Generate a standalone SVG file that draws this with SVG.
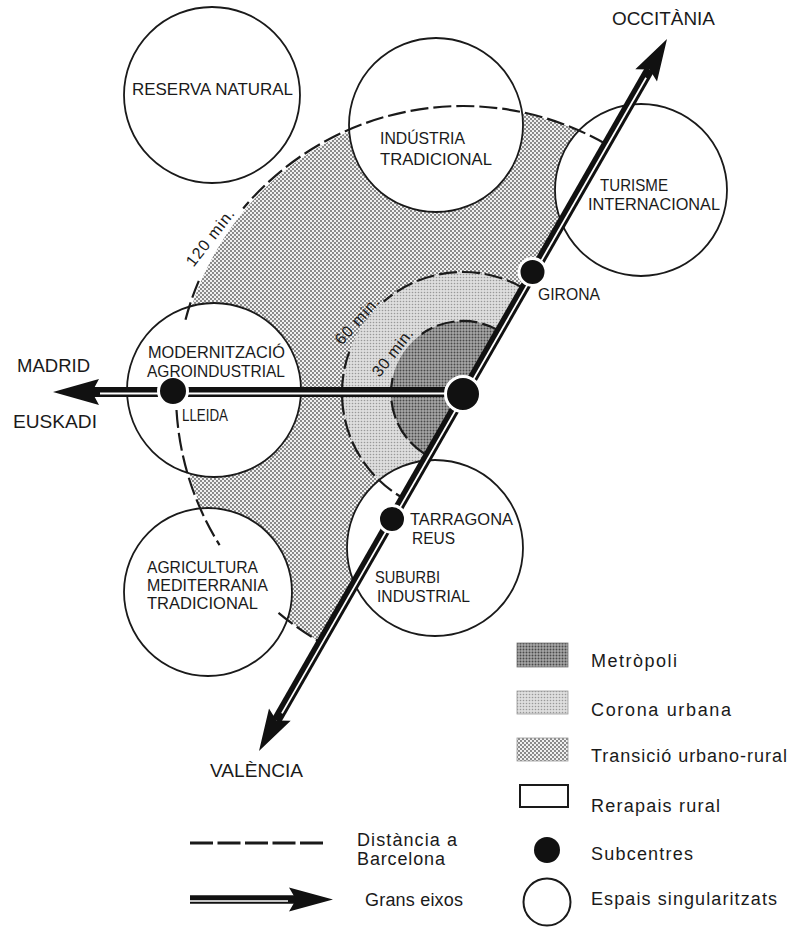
<svg xmlns="http://www.w3.org/2000/svg" width="792" height="930" viewBox="0 0 792 930">
<defs>
<pattern id="pMetro" width="3" height="3" patternUnits="userSpaceOnUse"><rect width="3" height="3" fill="#a8a8a8"/><circle cx="1.5" cy="1.5" r="1" fill="#4a4a4a"/></pattern>
<pattern id="pCorona" width="3" height="3" patternUnits="userSpaceOnUse"><rect width="3" height="3" fill="#dedede"/><circle cx="1.5" cy="1.5" r="0.8" fill="#999"/></pattern>
<pattern id="pTrans" width="4" height="4" patternUnits="userSpaceOnUse"><rect width="4" height="4" fill="#f0f0f0"/><circle cx="1" cy="1" r="0.9" fill="#5a5a5a"/><circle cx="3" cy="3" r="0.9" fill="#5a5a5a"/></pattern>
</defs>
<style>
.ring{fill:#fff;stroke:#1a1a1a;stroke-width:1.8}
.dash{fill:none;stroke:#1a1a1a;stroke-width:2.2;stroke-dasharray:18 5}
.shaft{stroke:#111;stroke-linecap:butt;fill:none}
.gap{stroke:#fff;stroke-linecap:butt;fill:none}
.head{fill:#111}
.dot{fill:#111;stroke:#fff;stroke-width:3}
text{font-family:"Liberation Sans",Arial,Helvetica,sans-serif;fill:#1a1a1a}
.lbl{font-size:17px}
.sm{font-size:16px}
.out{font-size:18px}
.leg{font-size:18px}
.min{font-size:16px}
</style>
<rect width="792" height="930" fill="#fff"/>

<g id="zones">
<path id="transicio" d="M463,393 L605.7,144 A287,287 0 0 0 320.3,642 Z" fill="url(#pTrans)"/>
<path id="corona" d="M463,393 L523.2,288 A121,121 0 0 0 402.8,498 Z" fill="url(#pCorona)"/>
<path id="metropoli" d="M463,393 L498.8,330.5 A72,72 0 0 0 427.2,455.5 Z" fill="url(#pMetro)"/>
</g>

<g id="reserva-natural"><circle class="ring" cx="212" cy="95" r="88"/></g>
<g id="industria-tradicional"><circle class="ring" cx="436" cy="125" r="87"/></g>
<g id="turisme-internacional"><circle class="ring" cx="641" cy="190" r="86"/></g>
<g id="modernitzacio-agroindustrial"><circle class="ring" cx="214" cy="390" r="87"/></g>
<g id="agricultura-mediterrania"><circle class="ring" cx="208" cy="592" r="84"/></g>
<g id="suburbi-industrial"><circle class="ring" cx="435" cy="548" r="88"/></g>

<g id="isochrones">
<path class="dash" d="M605.7,144 A287,287 0 0 0 243.2,208.5"/>
<path class="dash" d="M198.8,280.9 A287,287 0 0 0 184.5,323.6"/>
<path class="dash" d="M176.5,410 A287,287 0 0 0 219.6,545.1"/>
<path class="dash" d="M278.5,612.8 A287,287 0 0 0 320.3,642"/>
<path class="dash" d="M523.2,288 A121,121 0 0 0 383.6,301.7"/>
<path class="dash" d="M349.3,351.6 A121,121 0 0 0 402.8,498"/>
<path class="dash" d="M498.8,330.5 A72,72 0 0 0 421.7,334"/>
<path class="dash" d="M392.6,378 A72,72 0 0 0 427.2,455.5"/>
<text class="min" transform="translate(210,237.5) rotate(-52)" x="0" y="5.5" text-anchor="middle" textLength="68">120 min.</text>
<text class="min" transform="translate(357,320.5) rotate(-48.4)" x="0" y="5.5" text-anchor="middle" textLength="58">60 min.</text>
<text class="min" transform="translate(392.5,352.5) rotate(-52)" x="0" y="5.5" text-anchor="middle" textLength="56">30 min.</text>
</g>

<g id="connectors">
<g id="axis-occitania-valencia">
<line class="shaft" x1="649.6" y1="69.4" x2="276.4" y2="720.6" stroke-width="10"/>
<line class="gap" x1="646.1" y1="77.8" x2="281.9" y2="713.4" stroke-width="1.8"/>
<polygon class="head" points="667,39 657,81.6 649.6,69.4 635.3,69.2"/>
<polygon class="head" points="259,751 269,708.4 276.4,720.6 290.7,720.8"/>
</g>
<g id="axis-madrid">
<line class="shaft" x1="92" y1="392" x2="463" y2="392" stroke-width="10"/>
<line class="gap" x1="100" y1="393.5" x2="463" y2="393.5" stroke-width="1.8"/>
<polygon class="head" points="53,392 99,379 92,392 99,405"/>
</g>
</g>

<g id="barcelona"><circle class="dot" cx="463" cy="394" r="17.5"/></g>
<g id="girona"><circle class="dot" cx="532.5" cy="272" r="13.5"/><text class="lbl" x="538" y="300" textLength="62" lengthAdjust="spacingAndGlyphs">GIRONA</text></g>
<g id="lleida"><circle class="dot" cx="173" cy="391" r="14.5"/><text class="lbl" x="182" y="421" textLength="46" lengthAdjust="spacingAndGlyphs">LLEIDA</text></g>
<g id="tarragona-reus"><circle class="dot" cx="392" cy="519" r="13.5"/><text class="sm" x="410" y="525" textLength="103" lengthAdjust="spacingAndGlyphs">TARRAGONA</text><text class="sm" x="412" y="544" textLength="43" lengthAdjust="spacingAndGlyphs">REUS</text></g>

<g id="circle-labels">
<text class="lbl" x="132" y="94.5" textLength="161" lengthAdjust="spacingAndGlyphs">RESERVA NATURAL</text>
<text class="lbl" x="380" y="143.5" textLength="85" lengthAdjust="spacingAndGlyphs">INDÚSTRIA</text>
<text class="lbl" x="380" y="165" textLength="112" lengthAdjust="spacingAndGlyphs">TRADICIONAL</text>
<text class="lbl" x="600" y="191" textLength="68" lengthAdjust="spacingAndGlyphs">TURISME</text>
<text class="lbl" x="588" y="210" textLength="132" lengthAdjust="spacingAndGlyphs">INTERNACIONAL</text>
<text class="lbl" x="148" y="358" textLength="137" lengthAdjust="spacingAndGlyphs">MODERNITZACIÓ</text>
<text class="lbl" x="147" y="377" textLength="138" lengthAdjust="spacingAndGlyphs">AGROINDUSTRIAL</text>
<text class="lbl" x="375" y="583" textLength="65" lengthAdjust="spacingAndGlyphs">SUBURBI</text>
<text class="lbl" x="377" y="602" textLength="93" lengthAdjust="spacingAndGlyphs">INDUSTRIAL</text>
<text class="lbl" x="147" y="573" textLength="111" lengthAdjust="spacingAndGlyphs">AGRICULTURA</text>
<text class="lbl" x="147" y="591" textLength="121" lengthAdjust="spacingAndGlyphs">MEDITERRANIA</text>
<text class="lbl" x="147" y="609" textLength="111" lengthAdjust="spacingAndGlyphs">TRADICIONAL</text>
</g>

<g id="destinations">
<text class="out" x="612" y="25" textLength="103" lengthAdjust="spacingAndGlyphs">OCCITÀNIA</text>
<text class="out" x="17" y="372" textLength="73" lengthAdjust="spacingAndGlyphs">MADRID</text>
<text class="out" x="13" y="428" textLength="84" lengthAdjust="spacingAndGlyphs">EUSKADI</text>
<text class="out" x="210" y="777" textLength="93" lengthAdjust="spacingAndGlyphs">VALÈNCIA</text>
</g>

<g id="legend">
<g id="leg-metropoli"><rect x="517" y="643" width="51" height="24" fill="url(#pMetro)" stroke="#777" stroke-width="0.8"/><text class="leg" x="591" y="667" textLength="86">Metròpoli</text></g>
<g id="leg-corona"><rect x="517" y="691" width="51" height="23" fill="url(#pCorona)" stroke="#999" stroke-width="0.8"/><text class="leg" x="591" y="716" textLength="140">Corona urbana</text></g>
<g id="leg-transicio"><rect x="517" y="738" width="51" height="23" fill="url(#pTrans)" stroke="#999" stroke-width="0.8"/><text class="leg" x="591" y="762" textLength="196">Transició urbano-rural</text></g>
<g id="leg-rerapais"><rect x="520" y="785" width="48" height="22" fill="#fff" stroke="#1a1a1a" stroke-width="2"/><text class="leg" x="591" y="812" textLength="129">Rerapais rural</text></g>
<g id="leg-subcentres"><circle cx="547" cy="850" r="13" fill="#111"/><text class="leg" x="591" y="860" textLength="102">Subcentres</text></g>
<g id="leg-espais"><circle cx="547" cy="902" r="23.5" fill="#fff" stroke="#1a1a1a" stroke-width="2"/><text class="leg" x="591" y="905" textLength="186">Espais singularitzats</text></g>
<g id="leg-distancia"><line x1="190" y1="843" x2="327" y2="843" stroke="#1a1a1a" stroke-width="3" stroke-dasharray="23 4.5"/><text class="leg" x="357" y="846" textLength="100">Distància a</text><text class="leg" x="357" y="865" textLength="88">Barcelona</text></g>
<g id="leg-eixos"><line class="shaft" x1="190" y1="899.5" x2="296" y2="899.5" stroke-width="8.5"/><line class="gap" x1="190" y1="901" x2="288" y2="901" stroke-width="1.6"/><polygon class="head" points="333,899.5 289,887.5 296,899.5 289,911.5"/><text class="leg" x="365" y="906" textLength="98">Grans eixos</text></g>
</g>
</svg>
